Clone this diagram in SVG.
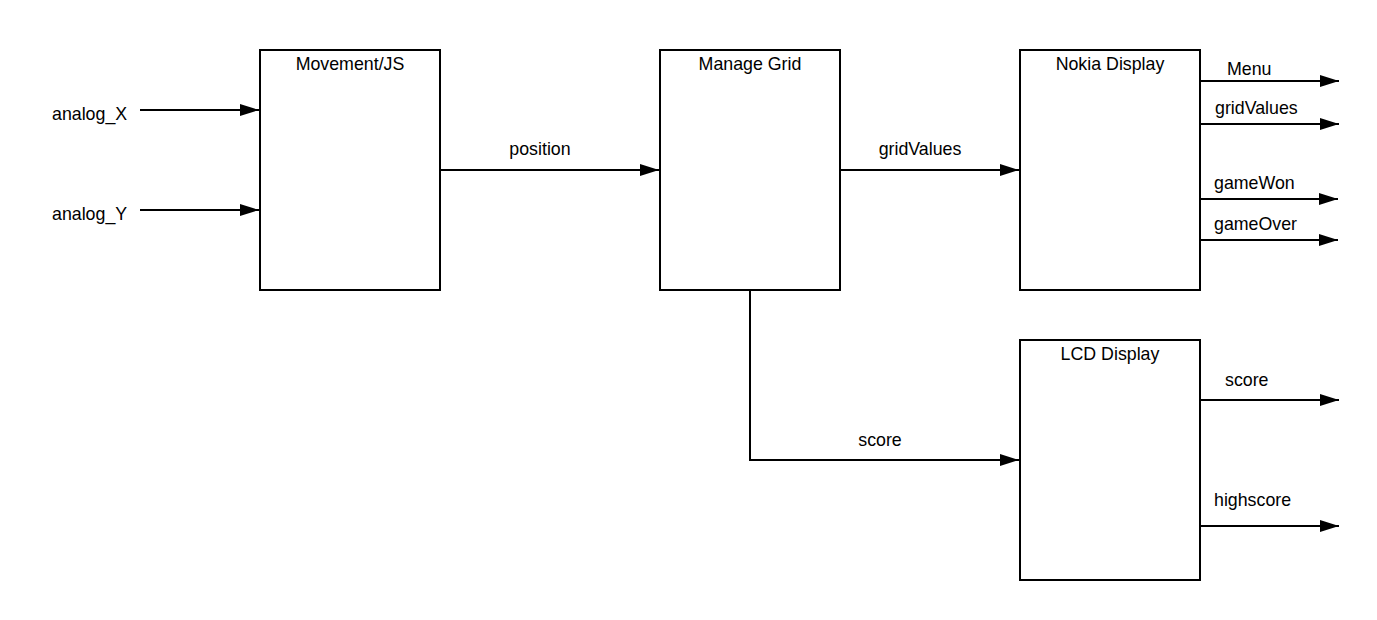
<svg xmlns="http://www.w3.org/2000/svg" width="1377" height="620" viewBox="0 0 1377 620">
<style>
.box{fill:#fff;stroke:#000;stroke-width:2}
.ln{fill:none;stroke:#000;stroke-width:2}
text{font-family:"Liberation Sans",Arial,sans-serif;font-size:17.8px;fill:#000}
.c{text-anchor:middle}
</style>
<defs>
<marker id="ah" markerUnits="userSpaceOnUse" markerWidth="20" markerHeight="14" refX="19" refY="7" orient="auto">
<path d="M0,1 L19,7 L0,13 Z" fill="#000"/>
</marker>
</defs>
<rect width="1377" height="620" fill="#fff"/>
<g id="movement"><rect class="box" x="260" y="50" width="180" height="240"/><text class="c" x="350" y="70">Movement/JS</text></g>
<g id="manage-grid"><rect class="box" x="660" y="50" width="180" height="240"/><text class="c" x="750" y="70">Manage Grid</text></g>
<g id="nokia"><rect class="box" x="1020" y="50" width="180" height="240"/><text class="c" x="1110" y="70">Nokia Display</text></g>
<g id="lcd"><rect class="box" x="1020" y="340" width="180" height="240"/><text class="c" x="1110" y="360">LCD Display</text></g>
<g id="connectors">
<path class="ln" d="M140,110 H259" marker-end="url(#ah)"/>
<path class="ln" d="M140,210 H259" marker-end="url(#ah)"/>
<path class="ln" d="M440,170 H659" marker-end="url(#ah)"/>
<path class="ln" d="M840,170 H1019" marker-end="url(#ah)"/>
<path class="ln" d="M750,290 V460 H1019" marker-end="url(#ah)"/>
<path class="ln" d="M1200,81 H1339" marker-end="url(#ah)"/>
<path class="ln" d="M1200,124 H1339" marker-end="url(#ah)"/>
<path class="ln" d="M1200,199 H1338" marker-end="url(#ah)"/>
<path class="ln" d="M1200,240 H1338" marker-end="url(#ah)"/>
<path class="ln" d="M1200,400 H1339" marker-end="url(#ah)"/>
<path class="ln" d="M1200,526 H1339" marker-end="url(#ah)"/>
</g>
<g id="labels">
<text x="52" y="120">analog_X</text>
<text x="52" y="220">analog_Y</text>
<text class="c" x="540" y="155">position</text>
<text class="c" x="920" y="155">gridValues</text>
<text class="c" x="880" y="446">score</text>
<text x="1227" y="75">Menu</text>
<text x="1215" y="114">gridValues</text>
<text x="1214" y="189">gameWon</text>
<text x="1214" y="230">gameOver</text>
<text x="1225" y="386">score</text>
<text x="1214" y="506">highscore</text>
</g>
</svg>
